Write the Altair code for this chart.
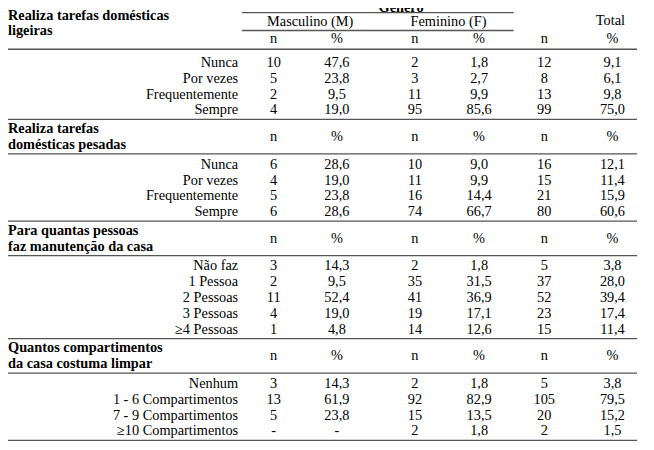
import altair as alt
import pandas as pd

# ---------------- data ----------------
sec_titles = [
    ["Realiza tarefas domésticas", "ligeiras"],
    ["Realiza tarefas", "domésticas pesadas"],
    ["Para quantas pessoas", "faz manutenção da casa"],
    ["Quantos compartimentos", "da casa costuma limpar"],
]
sec_labels = [
    ["Nunca", "Por vezes", "Frequentemente", "Sempre"],
    ["Nunca", "Por vezes", "Frequentemente", "Sempre"],
    ["Não faz", "1 Pessoa", "2 Pessoas", "3 Pessoas", "≥4 Pessoas"],
    ["Nenhum", "1 - 6 Compartimentos", "7 - 9 Compartimentos", "≥10 Compartimentos"],
]
m_n = [[10, 5, 2, 4], [6, 4, 5, 6], [3, 2, 11, 4, 1], [3, 13, 5, None]]
m_pct = [[47.6, 23.8, 9.5, 19.0], [28.6, 19.0, 23.8, 28.6],
         [14.3, 9.5, 52.4, 19.0, 4.8], [14.3, 61.9, 23.8, None]]
f_n = [[2, 3, 11, 95], [10, 11, 16, 74], [2, 35, 41, 19, 14], [2, 92, 15, 2]]
f_pct = [[1.8, 2.7, 9.9, 85.6], [9.0, 9.9, 14.4, 66.7],
         [1.8, 31.5, 36.9, 17.1, 12.6], [1.8, 82.9, 13.5, 1.8]]
t_n = [[12, 8, 13, 99], [16, 15, 21, 80], [5, 37, 52, 23, 15], [5, 105, 20, 2]]
t_pct = [[9.1, 6.1, 9.8, 75.0], [12.1, 11.4, 15.9, 60.6],
         [3.8, 28.0, 39.4, 17.4, 11.4], [3.8, 79.5, 15.2, 1.5]]
top_header = "Género"
group_headers = ["Masculino (M)", "Feminino (F)"]
total_header = "Total"
sub_headers = ["n", "%", "n", "%", "n", "%"]

# ---------------- layout (table geometry) ----------------
COL_X = [277, 341, 420, 485, 551, 620]
LABEL_X = 241
TITLE_X = 8
LEFT, RIGHT = 3, 645
ROW_H = 16


def fmt_n(v):
    return "-" if v is None else str(v)


def fmt_p(v):
    return "-" if v is None else f"{v:.1f}".replace(".", ",")


title_rows, label_rows, value_rows, rule_rows = [], [], [], []

# top header
value_rows.append(dict(x=406, y=5, t=top_header, w="bold"))
value_rows.append(dict(x=314, y=19, t=group_headers[0], w="normal"))
value_rows.append(dict(x=454, y=19, t=group_headers[1], w="normal"))
value_rows.append(dict(x=618, y=18, t=total_header, w="normal"))
rule_rows.append(dict(x=245, x2=520, y=10))
rule_rows.append(dict(x=245, x2=520, y=28))

rule_y = 47
rule_rows.append(dict(x=LEFT, x2=RIGHT, y=rule_y))
for s in range(4):
    if s == 0:
        t_y = [13, 29]
        sub_y = 37
        first = rule_y + 14
    else:
        t_y = [rule_y + 10, rule_y + 26]
        sub_y = rule_y + 18
        rule_y = rule_y + 35
        rule_rows.append(dict(x=LEFT, x2=RIGHT, y=rule_y))
        first = rule_y + 11
    for line, yy in zip(sec_titles[s], t_y):
        title_rows.append(dict(x=TITLE_X, y=yy, t=line))
    for cx, h in zip(COL_X, sub_headers):
        value_rows.append(dict(x=cx, y=sub_y, t=h, w="normal"))
    cols = [m_n[s], m_pct[s], f_n[s], f_pct[s], t_n[s], t_pct[s]]
    fmts = [fmt_n, fmt_p, fmt_n, fmt_p, fmt_n, fmt_p]
    for i, lab in enumerate(sec_labels[s]):
        yy = first + i * ROW_H
        label_rows.append(dict(x=LABEL_X, y=yy, t=lab))
        for cx, col, f in zip(COL_X, cols, fmts):
            value_rows.append(dict(x=cx, y=yy, t=f(col[i]), w="normal"))
    rule_y = first + (len(sec_labels[s]) - 1) * ROW_H + 9
    rule_rows.append(dict(x=LEFT, x2=RIGHT, y=rule_y))

W, H = 646, 442
xs = alt.Scale(domain=[8, 8 + W])
ys = alt.Scale(domain=[8, 8 + H], reverse=True)
X = alt.X("x:Q", scale=xs, axis=None)
Y = alt.Y("y:Q", scale=ys, axis=None)
FONT = "Liberation Serif, Times New Roman, serif"
FS = 14.5

rules = alt.Chart(pd.DataFrame(rule_rows)).mark_rule(
    color="#555555", strokeWidth=1.3
).encode(x=X, x2="x2:Q", y=Y)

titles = alt.Chart(pd.DataFrame(title_rows)).mark_text(
    align="left", baseline="middle", font=FONT, fontSize=FS,
    fontWeight="bold", color="#000000"
).encode(x=X, y=Y, text="t:N")

labels = alt.Chart(pd.DataFrame(label_rows)).mark_text(
    align="right", baseline="middle", font=FONT, fontSize=FS, color="#000000"
).encode(x=X, y=Y, text="t:N")

vdf = pd.DataFrame(value_rows)
vals = alt.Chart(vdf[vdf.w == "normal"]).mark_text(
    align="center", baseline="middle", font=FONT, fontSize=FS, color="#000000"
).encode(x=X, y=Y, text="t:N")
bold_vals = alt.Chart(vdf[vdf.w == "bold"]).mark_text(
    align="center", baseline="middle", font=FONT, fontSize=FS,
    fontWeight="bold", color="#000000"
).encode(x=X, y=Y, text="t:N")

chart = alt.layer(rules, titles, labels, vals, bold_vals).properties(
    width=W, height=H, padding=0, autosize=alt.AutoSizeParams(type="none"),
    background="white"
).configure_view(stroke=None)

chart.save("out.html", embed_options={"renderer": "svg", "actions": False})
